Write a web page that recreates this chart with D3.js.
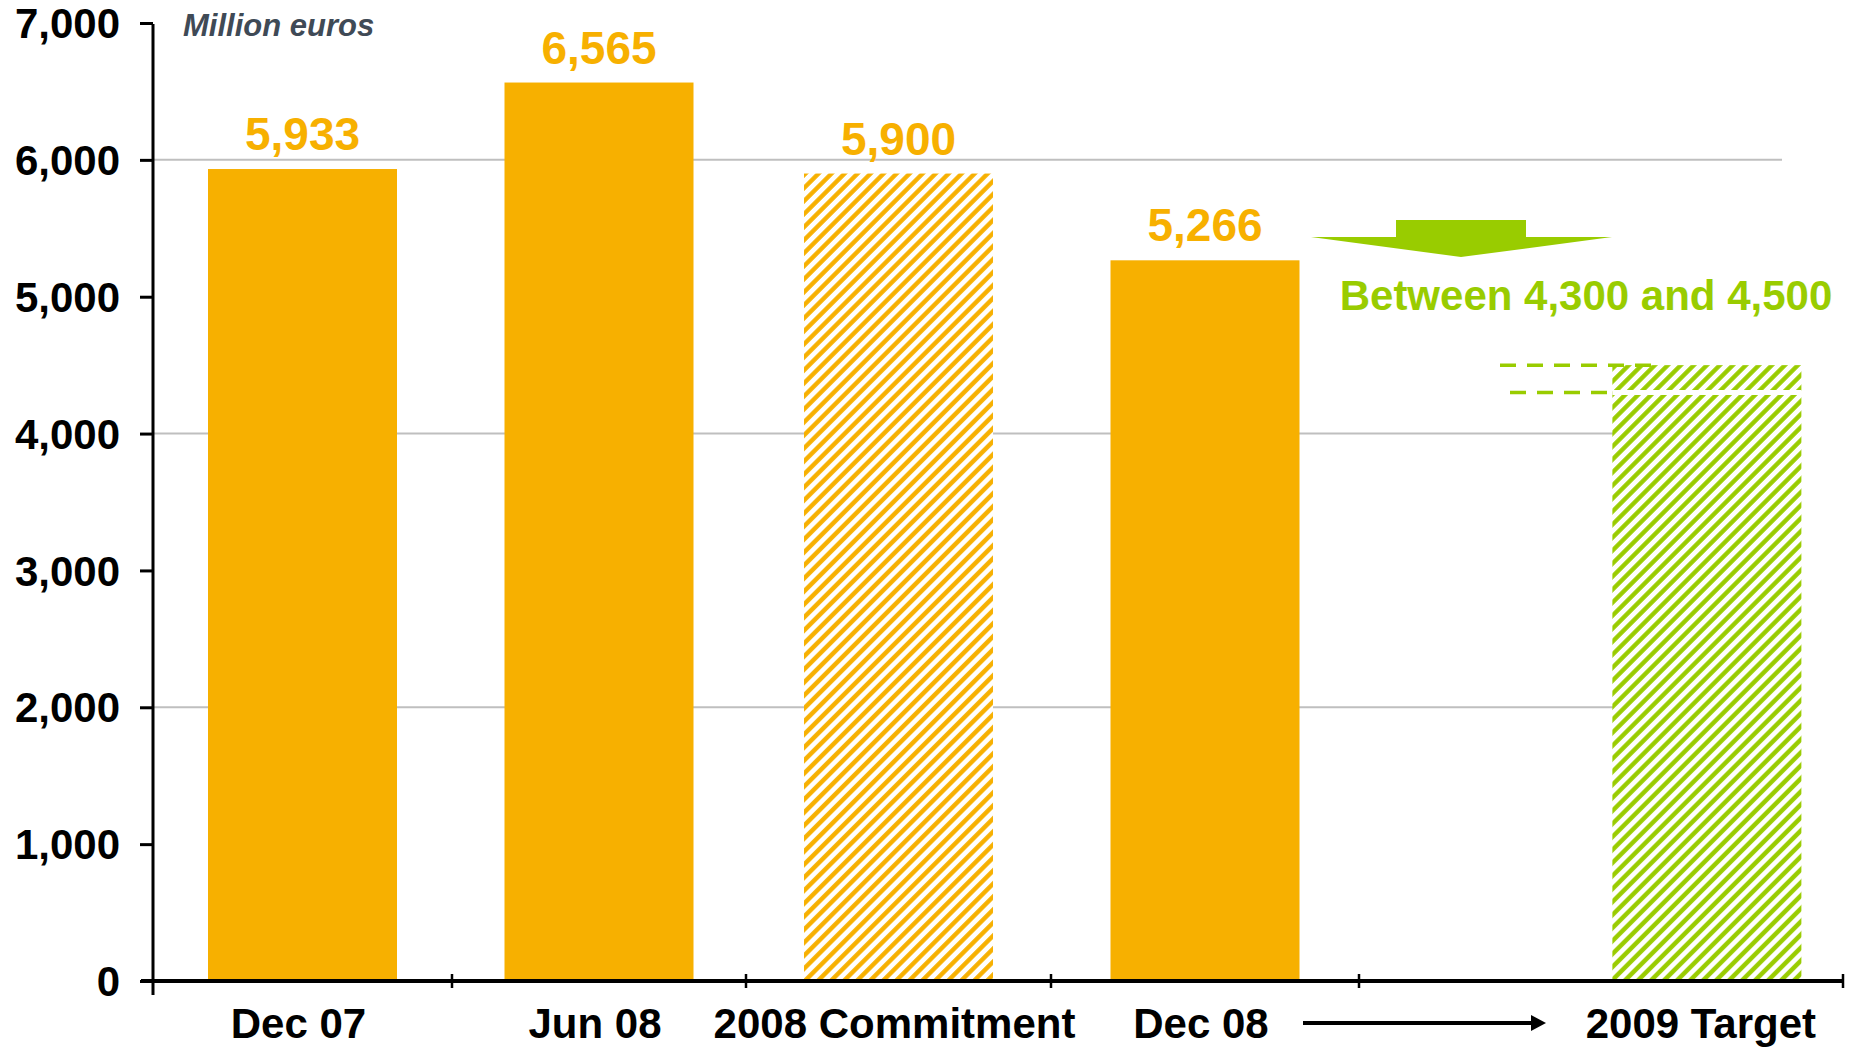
<!DOCTYPE html>
<html>
<head>
<meta charset="utf-8">
<script src="https://cdn.jsdelivr.net/npm/d3@7"></script>
<style>
  html, body { margin: 0; padding: 0; background: #ffffff; }
  svg { display: block; font-family: "Liberation Sans", Arial, Helvetica, sans-serif; }
</style>
</head>
<body>
<svg id="chart" width="1858" height="1047"></svg>
<script>
// Net debt, million euros
const categories = ["Dec 07", "Jun 08", "2008 Commitment", "Dec 08"];
const values = [5933, 6565, 5900, 5266];
const hatched = [false, false, true, false];
const targetCategory = "2009 Target";
const targetRange = [4300, 4500];
const yTickValues = [0, 1000, 2000, 3000, 4000, 5000, 6000, 7000];
const gridValues = [2000, 4000, 6000];
const unitLabel = "Million euros";

const ORANGE = "#F7B000";
const GREEN = "#99CC00";
const fmt = d3.format(",");

const svg = d3.select("#chart");

// Scales: y in values, x in category slots (four regular slots, then a wider target slot)
const y = d3.scaleLinear().domain([0, 7000]).range([981, 23]);
const slot = d3.scaleLinear()
  .domain([0, 1, 2, 3, 4, 5.6])
  .range([153, 452, 746, 1051, 1359, 1843]);
const barW = 189;
const targetCenter = slot(5.15);

// Hatch patterns
const defs = svg.append("defs");
const HP = 9.2;
function hatch(id, color) {
  const p = defs.append("pattern")
    .attr("id", id)
    .attr("patternUnits", "userSpaceOnUse")
    .attr("width", HP).attr("height", HP)
    .attr("patternTransform", "rotate(45)");
  p.append("rect").attr("width", HP).attr("height", HP).attr("fill", "#fff");
  p.append("line").attr("x1", HP / 4).attr("x2", HP / 4).attr("y1", 0).attr("y2", HP)
    .attr("stroke", color).attr("stroke-width", 4.4);
}
hatch("hatchOrange", ORANGE);
hatch("hatchGreen", GREEN);

// Gridlines
svg.append("g").selectAll("line").data(gridValues).join("line")
  .attr("x1", slot(0)).attr("x2", 1782)
  .attr("y1", d => y(d)).attr("y2", d => y(d))
  .attr("stroke", "#BFBFBF").attr("stroke-width", 2);

// Bars
svg.append("g").selectAll("rect").data(values).join("rect")
  .attr("x", (d, i) => slot(i + 0.5) - barW / 2)
  .attr("width", barW)
  .attr("y", d => y(d))
  .attr("height", d => y(0) - y(d))
  .attr("fill", (d, i) => hatched[i] ? "url(#hatchOrange)" : ORANGE);

// Value labels
svg.append("g").selectAll("text").data(values).join("text")
  .attr("x", (d, i) => slot(i + 0.5))
  .attr("y", d => y(d) - 19)
  .attr("text-anchor", "middle")
  .attr("font-size", 46).attr("font-weight", "bold")
  .attr("fill", ORANGE)
  .text(d => fmt(d));

// Target bar (range)
const tx = targetCenter - barW / 2;
svg.append("rect")
  .attr("x", tx).attr("width", barW)
  .attr("y", y(targetRange[1]))
  .attr("height", y(0) - y(targetRange[1]))
  .attr("fill", "url(#hatchGreen)");
svg.append("line")
  .attr("x1", tx).attr("x2", tx + barW)
  .attr("y1", y(targetRange[0])).attr("y2", y(targetRange[0]))
  .attr("stroke", "#fff").attr("stroke-width", 5);

// Dashed range markers
svg.append("line")
  .attr("x1", 1500).attr("x2", tx + 42)
  .attr("y1", y(targetRange[1])).attr("y2", y(targetRange[1]))
  .attr("stroke", GREEN).attr("stroke-width", 3.5).attr("stroke-dasharray", "16 11");
svg.append("line")
  .attr("x1", 1510).attr("x2", tx)
  .attr("y1", y(targetRange[0])).attr("y2", y(targetRange[0]))
  .attr("stroke", GREEN).attr("stroke-width", 3.5).attr("stroke-dasharray", "16 11");

// Range text
svg.append("text")
  .attr("x", 1586).attr("y", 310)
  .attr("text-anchor", "middle")
  .attr("font-size", 42).attr("font-weight", "bold")
  .attr("fill", GREEN)
  .text(`Between ${fmt(targetRange[0])} and ${fmt(targetRange[1])}`);

// Downward green arrow
svg.append("path")
  .attr("d", "M1396,220 H1526 V237 H1612 L1461,257 L1311,237 H1396 Z")
  .attr("fill", GREEN);

// Y axis
const yAxis = d3.axisLeft(y)
  .tickValues(yTickValues)
  .tickSize(13)
  .tickSizeOuter(0)
  .tickPadding(20)
  .tickFormat(fmt);
const gy = svg.append("g").attr("transform", `translate(${slot(0)},0)`).call(yAxis);
gy.select(".domain").remove();
gy.selectAll(".tick line").attr("stroke", "#000").attr("stroke-width", 3);
gy.selectAll(".tick text")
  .attr("font-size", 42).attr("font-weight", "bold").attr("fill", "#000")
  .attr("font-family", "'Liberation Sans', Arial, sans-serif")
  .attr("dy", "0.35em");
svg.append("line")
  .attr("x1", slot(0)).attr("x2", slot(0))
  .attr("y1", y(7000) + 1).attr("y2", 995)
  .attr("stroke", "#000").attr("stroke-width", 3);

// X axis
const xTickValues = [1, 2, 3, 4, 5.6];
svg.append("line")
  .attr("x1", 141).attr("x2", slot(5.6) + 1)
  .attr("y1", y(0)).attr("y2", y(0))
  .attr("stroke", "#000").attr("stroke-width", 4);
svg.append("g").selectAll("line").data(xTickValues).join("line")
  .attr("x1", d => slot(d)).attr("x2", d => slot(d))
  .attr("y1", y(0) - 7).attr("y2", y(0) + 7)
  .attr("stroke", "#000").attr("stroke-width", 2.5);

// Category labels
const xLabels = categories.map((c, i) => ({ text: c, x: slot(i + 0.5) - 4 }))
  .concat([{ text: targetCategory, x: targetCenter - 6 }]);
svg.append("g").selectAll("text").data(xLabels).join("text")
  .attr("x", d => d.x).attr("y", 1038)
  .attr("text-anchor", "middle")
  .attr("font-size", 42).attr("font-weight", "bold").attr("fill", "#000")
  .text(d => d.text);

// Timeline arrow between Dec 08 and the target
defs.append("marker")
  .attr("id", "arrowHead")
  .attr("markerUnits", "userSpaceOnUse")
  .attr("viewBox", "0 0 15 16").attr("refX", 0).attr("refY", 8)
  .attr("markerWidth", 15).attr("markerHeight", 16)
  .attr("orient", "auto")
  .append("path").attr("d", "M0,0 L15,8 L0,16 Z").attr("fill", "#000");
svg.append("line")
  .attr("x1", 1303).attr("x2", 1531)
  .attr("y1", 1023).attr("y2", 1023)
  .attr("stroke", "#000").attr("stroke-width", 4)
  .attr("marker-end", "url(#arrowHead)");

// Unit label
svg.append("text")
  .attr("x", 183).attr("y", 36)
  .attr("font-size", 31).attr("font-weight", "bold").attr("font-style", "italic")
  .attr("fill", "#3F4A56")
  .text(unitLabel);
</script>
</body>
</html>
